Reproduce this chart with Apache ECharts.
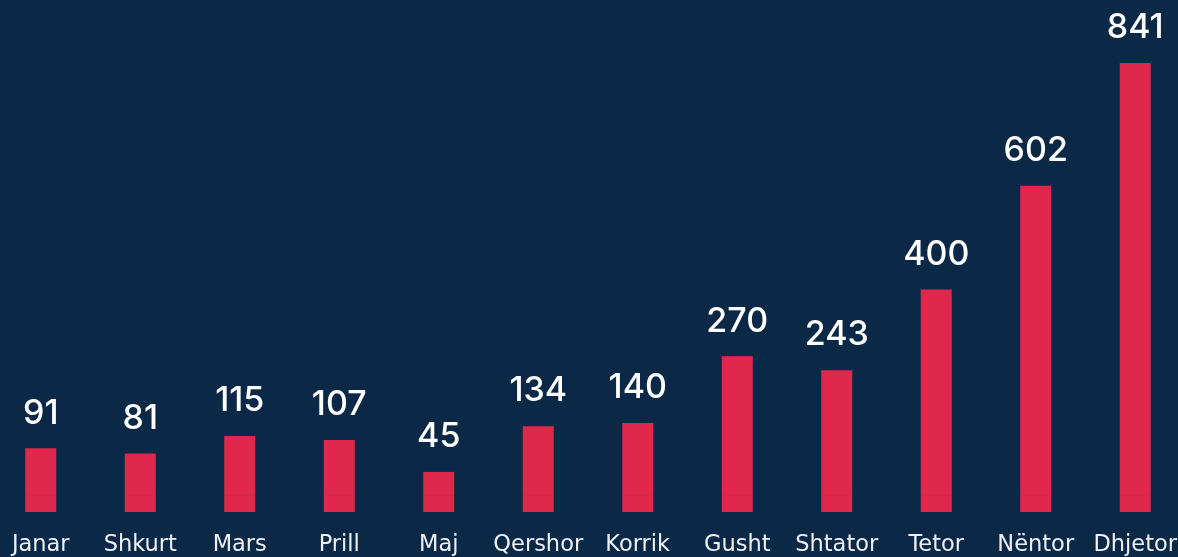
<!DOCTYPE html>
<html>
<head>
<meta charset="utf-8">
<script src="https://cdn.jsdelivr.net/npm/echarts@6/dist/echarts.min.js"></script>
<style>
  html, body { margin: 0; padding: 0; background: #0b2847; overflow: hidden; }
  /* a bit wider than the window so the outer bars sit near the edges */
  #chart { width: 1194px; height: 557px; margin-left: -9px; }
</style>
</head>
<body>
<div id="chart"></div>
<script>
    // muajt
    const months = ['Janar', 'Shkurt', 'Mars', 'Prill', 'Maj', 'Qershor', 'Korrik', 'Gusht', 'Shtator', 'Tetor', 'Nëntor', 'Dhjetor'];
    const counts = [91, 81, 115, 107, 45, 134, 140, 270, 243, 400, 602, 841];

    // bars in the picture start a bit below zero
    const BASE = 33;

    const chart = echarts.init(document.getElementById('chart'));
    chart.setOption({
        backgroundColor: '#0b2847',
        animation: false,
        grid: { left: 0, right: 0, top: 63, bottom: 44, containLabel: false },
        xAxis: {
            type: 'category',
            data: months,
            axisLine: { show: false },
            axisTick: { show: false },
            axisLabel: {
                color: '#eef2f6',
                fontFamily: 'DejaVu Sans',
                fontSize: 22.5,
                margin: 22,
                interval: 0
            }
        },
        yAxis: {
            type: 'value',
            min: 0,
            max: 841 + BASE,
            show: false,
            splitLine: { show: false }
        },
        series: [
            {
                name: 'base',
                type: 'bar',
                stack: 'a',
                silent: true,
                barWidth: 31,
                itemStyle: { color: '#e0284c' },
                data: counts.map(() => BASE)
            },
            {
                name: 'vlera',
                type: 'bar',
                stack: 'a',
                barWidth: 31,
                itemStyle: { color: '#e0284c' },
                label: {
                    show: true,
                    position: 'top',
                    distance: 18,
                    color: '#ffffff',
                    fontFamily: 'Inter',
                    fontWeight: 500,
                    fontSize: 34
                },
                data: counts
            }
        ]
    });
</script>
</body>
</html>
